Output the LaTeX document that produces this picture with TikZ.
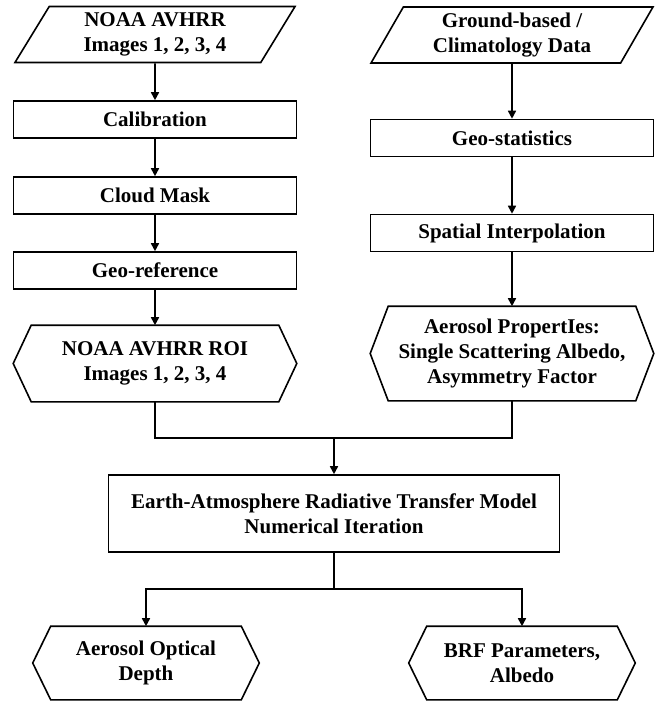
\documentclass[tikz,border=0pt]{standalone}
\usepackage{fontspec}
\setmainfont{Liberation Serif}
\usetikzlibrary{positioning,arrows.meta,shapes.geometric}
\tikzset{
  box/.style={draw,line width=0.8pt,minimum width=141.5pt,minimum height=18.5pt,inner sep=0pt,align=center,font=\bfseries\fontsize{10.5}{12.5}\selectfont},
  hexbox/.style={box,draw=none,minimum width=141pt},
  iobox/.style={box,trapezium,trapezium left angle=62,trapezium right angle=118,trapezium stretches=true,minimum width=141pt,minimum height=28pt},
  link/.style={line width=0.8pt},
  arr/.style={link,-{Triangle[length=4pt,width=4pt]}},
}

\begin{document}
\begin{tikzpicture}[x=0.5pt,y=-0.5pt]
\useasboundingbox (0,0) rectangle (656,702);
% input data
\node[iobox] (avh) at (155,34.5) {NOAA AVHRR\\Images 1, 2, 3, 4};
\node[iobox] (gnd) at (512,35) {Ground-based /\\Climatology Data};
% processing chains
\foreach \n/\y/\t in {cal/119.5/Calibration,cld/195.5/Cloud Mask,geo/270.5/Geo-reference}
  \node[box] (\n) at (155,\y) {\t};
\foreach \n/\y/\t in {gst/138/Geo-statistics,spi/233/Spatial Interpolation}
  \node[box] (\n) at (512,\y) {\t};
\node[hexbox,minimum height=37.5pt] (roi) at (155,363.5) {NOAA AVHRR ROI\\Images 1, 2, 3, 4};
\node[hexbox,minimum height=46.5pt] (aer) at (512,353.5) {Aerosol PropertIes:\\Single Scattering Albedo,\\Asymmetry Factor};
% model and results
\node[box,minimum width=225.5pt,minimum height=38.5pt] (rtm) at (334,513.5) {Earth-Atmosphere Radiative Transfer Model\\Numerical Iteration};
\node[hexbox,minimum width=112.5pt,minimum height=36pt] (aod) at (146,663) {Aerosol Optical\\Depth};
\node[hexbox,minimum width=112.5pt,minimum height=36pt] (brf) at (522,663) {BRF Parameters,\\Albedo};
\foreach \n in {roi,aer,aod,brf}
  \draw[link] (\n.west) -- ([xshift=9pt]\n.north west) -- ([xshift=-9pt]\n.north east) -- (\n.east) -- ([xshift=-9pt]\n.south east) -- ([xshift=9pt]\n.south west) -- cycle;
% connectors
\foreach \a/\b in {avh/cal,cal/cld,cld/geo,geo/roi,gnd/gst,gst/spi,spi/aer}
  \draw[arr] (\a.south) -- (\b.north);
\coordinate (mrg) at (334,438);
\draw[link] (roi.south) |- (mrg) -| (aer.south);
\draw[arr] (mrg) -- (rtm.north);
\coordinate (spl) at (334,589);
\draw[link] (rtm.south) -- (spl);
\draw[arr] (spl) -| (aod.north);
\draw[arr] (spl) -| (brf.north);
\end{tikzpicture}
\end{document}
